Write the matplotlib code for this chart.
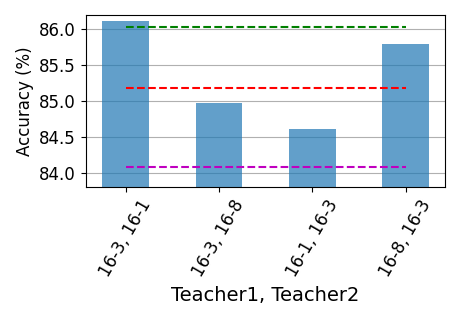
import numpy as np
import matplotlib.pyplot as plt

pairs = ["16-3, 16-1", "16-3, 16-8", "16-1, 16-3", "16-8, 16-3"]
acc = [86.115, 84.975, 84.615, 85.80]

# reference lines
green_ref = 86.035
red_ref = 85.185
magenta_ref = 84.075

fig, ax = plt.subplots(figsize=(4.59, 3.2), dpi=100)
x = np.arange(len(pairs))
ax.bar(x, acc, width=0.5, color='#1f77b4', alpha=0.7, zorder=2)
ax.hlines(green_ref, x[0], x[-1], colors='g', linestyles='--', zorder=3)
ax.hlines(red_ref, x[0], x[-1], colors='r', linestyles='--', zorder=3)
ax.hlines(magenta_ref, x[0], x[-1], colors='m', linestyles='--', zorder=3)

ax.set_ylim(83.8, 86.2)
ax.set_yticks([84.0, 84.5, 85.0, 85.5, 86.0])
ax.set_xticks(x)
ax.set_xticklabels(pairs, rotation=60)
ax.tick_params(labelsize=12)
ax.set_ylabel("Accuracy (%)", fontsize=12)
ax.set_xlabel("Teacher1, Teacher2", fontsize=14)
ax.yaxis.grid(True, zorder=0)
ax.set_axisbelow(True)

fig.subplots_adjust(left=0.187, right=0.970, top=0.953, bottom=0.415)
fig.savefig("out.png")
